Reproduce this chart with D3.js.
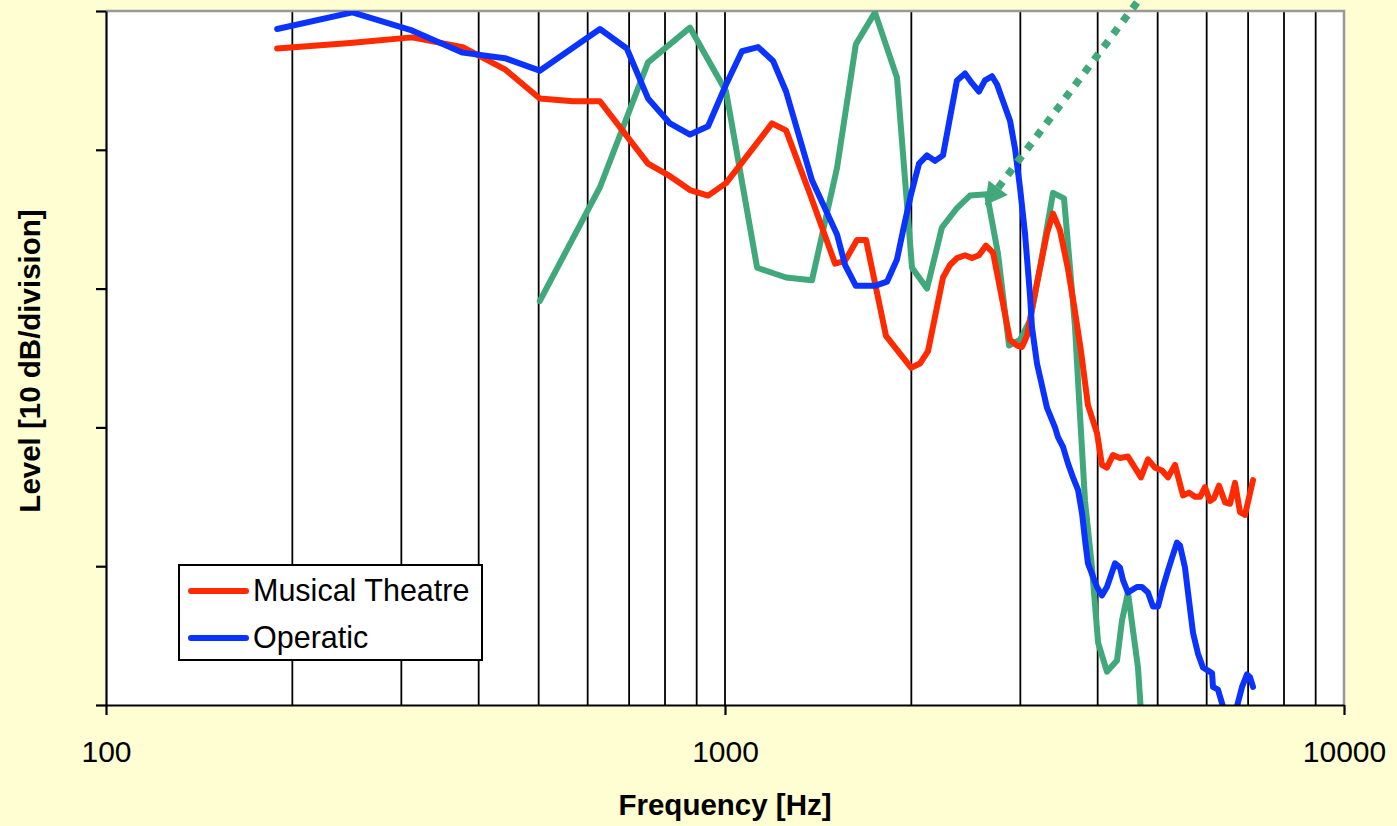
<!DOCTYPE html>
<html>
<head>
<meta charset="utf-8">
<script src="https://cdn.jsdelivr.net/npm/d3@7"></script>
<style>
  html, body { margin: 0; padding: 0; background: #FFFDD2; }
  svg { display: block; font-family: "Liberation Sans", Arial, sans-serif; }
</style>
</head>
<body>
<svg id="chart" width="1397" height="826"></svg>
<script>
// Spectra of a sung tone: frequency in Hz, level in dB (10 dB per division)
const musicalFreq = [189, 248, 312, 377, 441, 502, 568, 628, 751, 815, 878, 939, 1004, 1118, 1191, 1255, 1372, 1506, 1563, 1634, 1690, 1820, 1903, 1998, 2065, 2128, 2250, 2309, 2370, 2442, 2506, 2572, 2640, 2710, 2771, 2887, 2963, 3019, 3075, 3192, 3313, 3388, 3477, 3582, 3663, 3759, 3858, 3990, 4064, 4140, 4234, 4346, 4477, 4699, 4823, 4950, 5082, 5196, 5333, 5495, 5619, 5746, 5854, 5963, 6075, 6166, 6283, 6424, 6544, 6667, 6792, 6920, 7129];
const musicalLevel = [47.3, 47.7, 48.1, 47.4, 45.8, 43.7, 43.5, 43.5, 39.0, 38.1, 37.1, 36.7, 37.6, 40.3, 41.9, 41.4, 36.8, 31.8, 32.0, 33.5, 33.5, 26.6, 25.5, 24.3, 24.6, 25.5, 30.8, 31.7, 32.2, 32.4, 32.2, 32.4, 33.1, 32.6, 30.4, 26.3, 25.9, 25.8, 26.6, 30.4, 34.0, 35.4, 34.2, 31.4, 28.8, 25.5, 21.6, 19.6, 17.3, 17.1, 18.0, 17.8, 17.9, 16.4, 17.7, 17.1, 16.9, 16.4, 17.3, 15.1, 15.3, 15.0, 15.0, 15.7, 14.7, 14.9, 15.8, 14.6, 14.5, 16.0, 13.9, 13.7, 16.2];

const operaticFreq = [189, 250, 312, 377, 441, 502, 628, 694, 751, 815, 878, 939, 1004, 1065, 1131, 1196, 1255, 1382, 1517, 1563, 1627, 1747, 1827, 1896, 1946, 1998, 2058, 2120, 2184, 2250, 2309, 2370, 2442, 2506, 2572, 2630, 2700, 2751, 2813, 2887, 2941, 2996, 3052, 3109, 3133, 3192, 3313, 3413, 3451, 3516, 3582, 3649, 3718, 3774, 3816, 3858, 3990, 4064, 4140, 4266, 4346, 4395, 4477, 4629, 4717, 4823, 4913, 5006, 5101, 5196, 5273, 5372, 5433, 5535, 5598, 5703, 5809, 5918, 6121, 6143, 6257, 6375, 6544, 6716, 6843, 6971, 7049, 7129];
const operaticLevel = [48.7, 49.9, 48.6, 47.0, 46.6, 45.7, 48.7, 47.3, 43.7, 41.9, 41.1, 41.7, 44.7, 47.1, 47.4, 46.4, 44.2, 37.8, 33.9, 31.7, 30.2, 30.2, 30.5, 32.1, 34.5, 36.8, 39.0, 39.6, 39.2, 39.6, 42.3, 45.0, 45.5, 44.8, 44.2, 45.0, 45.3, 44.7, 43.5, 42.1, 40.1, 37.3, 34.0, 29.6, 27.2, 24.6, 21.4, 20.0, 19.3, 18.6, 17.4, 16.4, 15.5, 13.8, 11.9, 10.2, 8.5, 7.9, 8.5, 10.2, 9.9, 9.0, 8.1, 8.5, 8.5, 8.1, 7.1, 7.1, 8.5, 9.7, 10.6, 11.7, 11.5, 9.9, 8.1, 5.2, 3.7, 2.7, 2.3, 1.3, 1.1, -0.1, -1.4, -0.1, 1.3, 2.2, 2.0, 1.3];

const thirdFreq = [502, 628, 751, 878, 1004, 1127, 1255, 1382, 1517, 1627, 1747, 1896, 2005, 2120, 2241, 2370, 2487, 2650, 2761, 2876, 2996, 3109, 3228, 3388, 3529, 3609, 3677, 3732, 3816, 3916, 4006, 4140, 4298, 4379, 4477, 4561, 4647, 4699];
const thirdLevel = [29.1, 37.3, 46.3, 48.8, 44.2, 31.5, 30.8, 30.6, 38.7, 47.6, 49.9, 45.2, 31.5, 30.0, 34.4, 35.8, 36.7, 36.8, 32.5, 25.9, 26.3, 27.7, 31.5, 36.9, 36.5, 31.5, 27.2, 22.1, 14.7, 9.9, 4.5, 2.4, 3.2, 6.1, 8.1, 5.4, 2.7, -0.5];

// Dotted pointer: tip on the third curve's peak, running off the top
const pointerFreq = [2630, 4682];
const pointerLevel = [36.0, 50.9];

const legendNames = ["Musical Theatre", "Operatic"];
const xTickValues = [100, 1000, 10000];
const yTickValues = [0, 10, 20, 30, 40, 50];

const colors = { musical: "#FF2A00", operatic: "#0A33FF", third: "#40A87A" };

const svg = d3.select("#chart");
const W = 1397, H = 826;
const plotL = 106, plotR = 1344, plotT = 11, plotB = 705;

svg.append("rect").attr("width", W).attr("height", H).attr("fill", "#FFFDD2");

const x = d3.scaleLog().domain([100, 10000]).range([plotL, plotR]);
const y = d3.scaleLinear().domain([0, 50]).range([plotB, plotT]);

// plot area
svg.append("rect")
  .attr("x", plotL).attr("y", plotT)
  .attr("width", plotR - plotL).attr("height", plotB - plotT)
  .attr("fill", "#FFFFFF");

// vertical grid lines at every decade subdivision
const gridVals = x.ticks().filter(v => v > 100 && v < 10000);
svg.append("g").selectAll("line").data(gridVals).join("line")
  .attr("x1", d => x(d)).attr("x2", d => x(d))
  .attr("y1", plotT).attr("y2", plotB)
  .attr("stroke", "#000").attr("stroke-width", 1.8);

// top and right frame
svg.append("path")
  .attr("d", `M${plotL},${plotT}H${plotR}V${plotB}`)
  .attr("fill", "none").attr("stroke", "#999").attr("stroke-width", 2.5);

svg.append("defs").append("clipPath").attr("id", "plotClip")
  .append("rect").attr("x", plotL).attr("y", plotT)
  .attr("width", plotR - plotL).attr("height", plotB - plotT);

const line = d3.line().x(d => x(d[0])).y(d => y(d[1]));
const zip = (a, b) => a.map((v, i) => [v, b[i]]);

const series = [
  { f: thirdFreq, l: thirdLevel, c: colors.third },
  { f: musicalFreq, l: musicalLevel, c: colors.musical },
  { f: operaticFreq, l: operaticLevel, c: colors.operatic }
];
const gLines = svg.append("g").attr("clip-path", "url(#plotClip)");
series.forEach(s => {
  gLines.append("path")
    .attr("d", line(zip(s.f, s.l)))
    .attr("fill", "none")
    .attr("stroke", s.c)
    .attr("stroke-width", 6)
    .attr("stroke-linejoin", "round")
    .attr("stroke-linecap", "round");
});

// axes
const xAxis = svg.append("g").attr("transform", `translate(0,${plotB})`)
  .call(d3.axisBottom(x).tickValues(xTickValues).tickFormat(d3.format("d"))
    .tickSizeInner(10).tickSizeOuter(0).tickPadding(26));
xAxis.select(".domain").attr("stroke", "#000").attr("stroke-width", 2.2);
xAxis.selectAll(".tick line").attr("stroke", "#000").attr("stroke-width", 2.2);
xAxis.selectAll(".tick text")
  .attr("font-family", "Liberation Sans, Arial, sans-serif")
  .attr("font-size", 30).attr("fill", "#000");

const yAxis = svg.append("g").attr("transform", `translate(${plotL},0)`)
  .call(d3.axisLeft(y).tickValues(yTickValues).tickFormat("")
    .tickSizeInner(10).tickSizeOuter(0));
yAxis.select(".domain").attr("stroke", "#000").attr("stroke-width", 2.2);
yAxis.selectAll(".tick line").attr("stroke", "#000").attr("stroke-width", 2.2);

// axis titles
svg.append("text")
  .attr("x", (plotL + plotR) / 2).attr("y", 815)
  .attr("text-anchor", "middle")
  .attr("font-weight", "bold").attr("font-size", 29.5)
  .text("Frequency [Hz]");

svg.append("text")
  .attr("transform", `translate(40,${(plotT + plotB) / 2 + 3}) rotate(-90)`)
  .attr("text-anchor", "middle")
  .attr("font-weight", "bold").attr("font-size", 29.5)
  .text("Level [10 dB/division]");

// dotted pointer with arrowhead
const tip = [x(pointerFreq[0]), y(pointerLevel[0])];
const end = [x(pointerFreq[1]), y(pointerLevel[1])];
const len = Math.hypot(end[0] - tip[0], end[1] - tip[1]);
const ux = (end[0] - tip[0]) / len, uy = (end[1] - tip[1]) / len;
const headLen = 22, headHalf = 12;
const base = [tip[0] + ux * headLen, tip[1] + uy * headLen];
svg.append("line")
  .attr("x1", base[0]).attr("y1", base[1])
  .attr("x2", end[0]).attr("y2", end[1])
  .attr("stroke", colors.third).attr("stroke-width", 7.5)
  .attr("stroke-dasharray", "7.5 8.5");
svg.append("path")
  .attr("d", `M${tip[0]},${tip[1]}L${base[0] - uy * headHalf},${base[1] + ux * headHalf}L${base[0] + uy * headHalf},${base[1] - ux * headHalf}Z`)
  .attr("fill", colors.third);

// legend
const lg = svg.append("g");
lg.append("rect").attr("x", 179).attr("y", 565).attr("width", 303).attr("height", 95)
  .attr("fill", "#fff").attr("stroke", "#000").attr("stroke-width", 2);
const legendColors = [colors.musical, colors.operatic];
legendNames.forEach((name, i) => {
  const cy = 591 + i * 47;
  lg.append("line").attr("x1", 191).attr("x2", 246).attr("y1", cy).attr("y2", cy)
    .attr("stroke", legendColors[i]).attr("stroke-width", 6).attr("stroke-linecap", "round");
  lg.append("text").attr("x", 253).attr("y", cy + 10)
    .attr("font-size", 30.5).attr("fill", "#000").text(name);
});
</script>
</body>
</html>
